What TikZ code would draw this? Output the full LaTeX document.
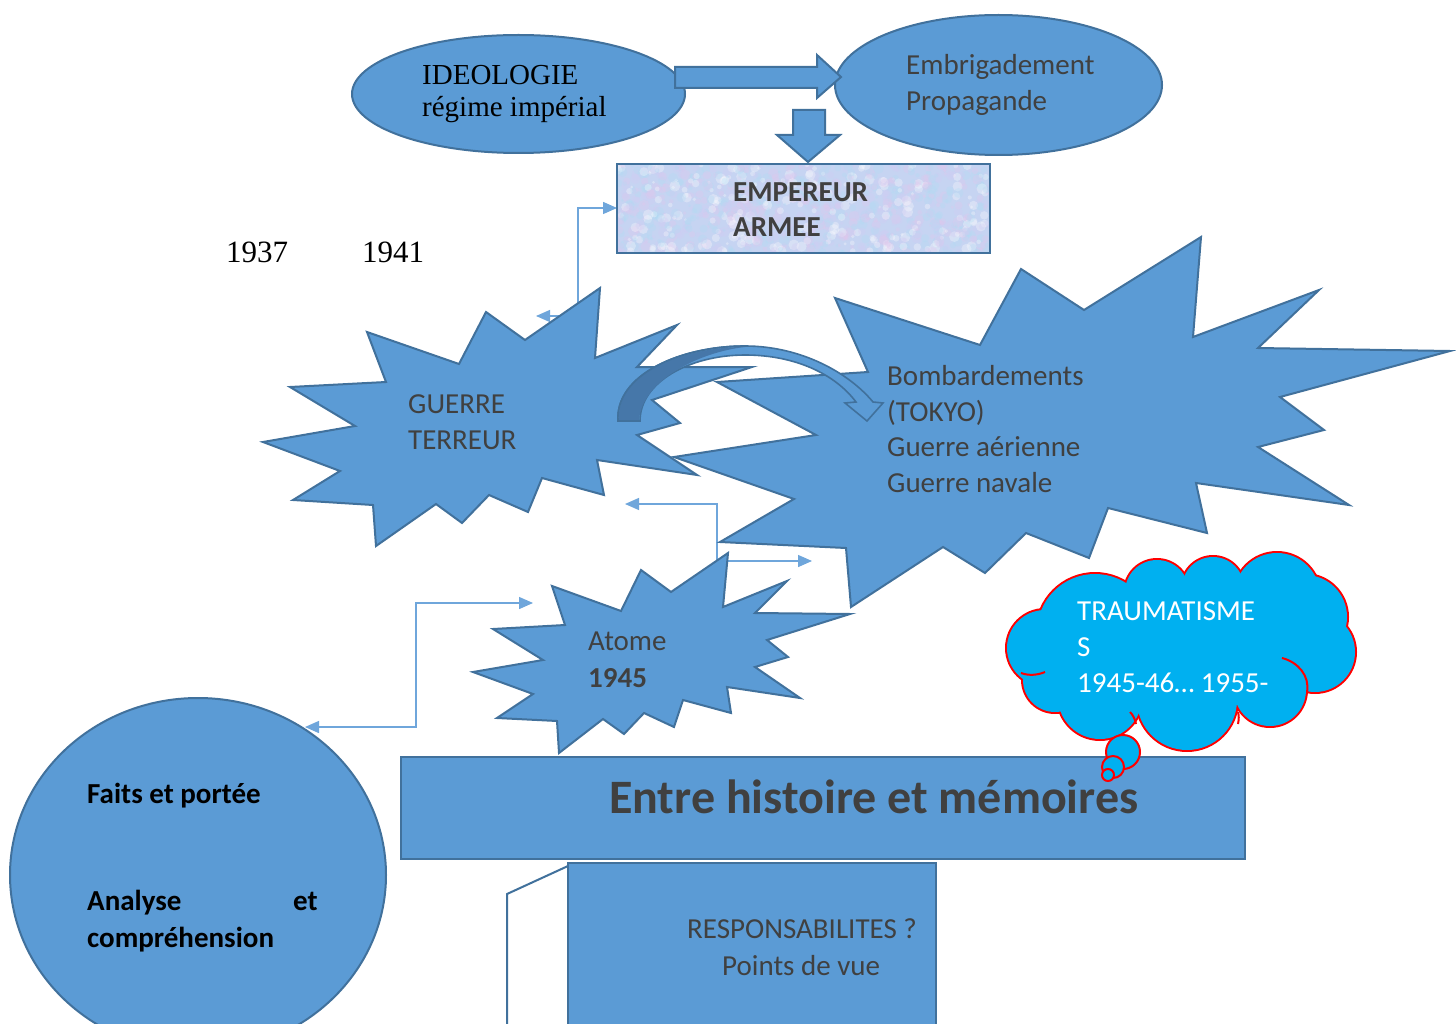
\documentclass[tikz,border=0pt]{standalone}
\usepackage{fontspec}
\setmainfont{Carlito}
\newfontfamily\tnr{Liberation Serif}
\usetikzlibrary{arrows.meta,shapes.geometric}
\definecolor{fillb}{HTML}{5B9BD5}
\definecolor{edgeb}{HTML}{41719C}
\definecolor{txtg}{HTML}{404040}
\definecolor{conn}{HTML}{6FA6DB}
\definecolor{cloudc}{HTML}{00B0F0}
\definecolor{darkband}{HTML}{4677A9}
\definecolor{empbase}{HTML}{C6D4F2}
\definecolor{emppink}{HTML}{E2C6EC}
\definecolor{empcyan}{HTML}{B0DCF4}
\definecolor{emplav}{HTML}{D2CCF2}
\begin{document}
\begin{tikzpicture}[x=1pt,y=-1pt,
  shapefill/.style={fill=fillb,draw=edgeb,line width=2pt,line join=miter},
  txt/.style={anchor=base west,inner sep=0pt,text=txtg,font=\fontsize{29}{34}\selectfont},
  btxt/.style={txt,font=\bfseries\fontsize{29}{34}\selectfont},
  serif/.style={anchor=base west,inner sep=0pt,text=black,font=\tnr\fontsize{29}{32}\selectfont},
  yr/.style={anchor=base west,inner sep=0pt,text=black,font=\tnr\fontsize{31}{34}\selectfont},
  connector/.style={draw=conn,line width=1.4pt,{Triangle[length=14pt,width=12pt]}-{Triangle[length=14pt,width=12pt]}},
  bubble/.style={fill=cloudc,draw=red,line width=2pt},
  curl/.style={draw=red,line width=2pt},
 ]
\useasboundingbox (0,0) rectangle (1456,1024);
\fill[white] (0,0) rectangle (1456,1024);

% ---------- connector coordinates ----------
\coordinate (c1a) at (617,208);
\coordinate (c1b) at (578,208);
\coordinate (c1c) at (578,316);
\coordinate (c1d) at (536,316);
\coordinate (c2a) at (625,504);
\coordinate (c2b) at (717,504);
\coordinate (c2c) at (717,561);
\coordinate (c2d) at (812,561);
\coordinate (c3a) at (533,603);
\coordinate (c3b) at (416,603);
\coordinate (c3c) at (416,727);
\coordinate (c3d) at (305,727);

\draw[connector] (c1d) -- (c1c) -- (c1b) -- (c1a);
\draw[connector] (c2a) -- (c2b) -- (c2c) -- (c2d);

% ---------- GUERRE star ----------
\draw[shapefill] (600,288) -- (595,358) -- (677,325) -- (637,367) -- (752,367) -- (652,400)
  -- (680,423) -- (637,435) -- (697,475) -- (597,460) -- (604,495) -- (542,478) -- (528,512)
  -- (489,495) -- (462,523) -- (436,504) -- (376,546) -- (373,505) -- (293,500) -- (340,471)
  -- (263,442) -- (355,426) -- (290,387) -- (386,382) -- (367,332) -- (459,364) -- (486,312)
  -- (525,340) -- cycle;

% ---------- big star ----------
\draw[shapefill] (835,298) -- (980,345) -- (1021,269) -- (1084,310) -- (1201,237) -- (1193,337)
  -- (1319,290) -- (1258,348) -- (1450,351) -- (1280,397) -- (1324,430) -- (1258,447)
  -- (1349,505) -- (1196,483) -- (1207,533) -- (1108,508) -- (1089,558) -- (1026,533)
  -- (985,573) -- (943,547) -- (851,607) -- (846,548) -- (720,542) -- (794,499) -- (674,457)
  -- (816,435) -- (717,382) -- (868,372) -- cycle;

% ---------- Atome star ----------
\draw[shapefill] (728,553) -- (723,607) -- (787,581) -- (755,613) -- (850,614) -- (767,640)
  -- (788,657) -- (755,667) -- (800,698) -- (727,687) -- (731,713) -- (683,700) -- (674,727)
  -- (644,713) -- (624,734) -- (603,719) -- (559,753) -- (557,721) -- (497,718) -- (533,694)
  -- (473,672) -- (543,660) -- (493,629) -- (565,625) -- (552,586) -- (621,611) -- (641,570)
  -- (671,592) -- cycle;

% ---------- curved arrow ----------
\draw[shapefill,line width=1.6pt] (618,421) .. controls (615,375) and (680,346) .. (745,346)
  .. controls (800,346) and (848,372) .. (873,402) -- (883,403) -- (867,421) -- (845,403)
  -- (856,402) .. controls (835,374) and (795,355) .. (745,355)
  .. controls (690,355) and (640,382) .. (640,421) -- cycle;
\fill[darkband] (619,420) .. controls (616,375) and (680,347) .. (745,347)
  .. controls (700,352) and (642,380) .. (639,420) -- cycle;
\draw[edgeb,line width=1.6pt] (618,421) .. controls (615,375) and (680,346) .. (745,346);
\draw[edgeb,line width=1.6pt] (618,421) -- (640,421);

% ---------- top ellipses and block arrows ----------
\node[ellipse,shapefill,minimum width=333,minimum height=118,inner sep=0pt] (ideo) at (518.5,94) {};
\node[ellipse,shapefill,minimum width=327,minimum height=140,inner sep=0pt] (embr) at (998.5,85) {};
\draw[shapefill] (675,67) -- (817,67) -- (817,55) -- (841,77) -- (817,98) -- (817,88) -- (675,88) -- cycle;
\draw[shapefill] (793,110) -- (825,110) -- (825,135) -- (840,135) -- (808,162) -- (777,135) -- (793,135) -- cycle;

% ---------- EMPEREUR box ----------
\begin{scope}
\clip (617,164) rectangle (990,253);
\fill[empbase] (617,164) rectangle (990,253);
\pgfmathsetseed{11}
\foreach \i in {1,...,1100}{
  \pgfmathsetmacro\xx{617+373*rnd}
  \pgfmathsetmacro\yy{164+89*rnd}
  \pgfmathsetmacro\rr{1.5+4*rnd}
  \pgfmathtruncatemacro\kk{4*rnd}
  \ifcase\kk\def\cc{emppink}\or\def\cc{empcyan}\or\def\cc{emplav}\else\def\cc{white}\fi
  \fill[\cc,opacity=0.3] (\xx,\yy) circle (\rr);
}
\end{scope}
\node[rectangle,draw=edgeb,line width=2.2pt,minimum width=373,minimum height=89,inner sep=0pt] (emp) at (803.5,208.5) {};

% ---------- Faits circle ----------
\node[ellipse,shapefill,minimum width=376,minimum height=354,inner sep=0pt] (faits) at (198,875) {};
\draw[connector] (c3a) -- (c3b) -- (c3c) -- (c3d);

% ---------- bottom boxes ----------
\node[rectangle,shapefill,minimum width=844,minimum height=102,inner sep=0pt] (entre) at (823,808) {};
\draw[shapefill] (568,863) rectangle (936,1040);
\coordinate (r1) at (568,866);
\coordinate (r2) at (507,894);
\coordinate (r3) at (507,1040);
\draw[edgeb,line width=2pt] (r1) -- (r2) -- (r3);

% ---------- cloud ----------
\foreach \cx/\cy/\r in {1045/648/38,1095/632/58,1157/592/32,1213/588/31,1277/596/43,1305/617/42,
  1315/652/40,1270/690/36,1187/700/50,1100/697/42,1055/680/32}
  \draw[red,line width=4pt] (\cx,\cy) circle (\r);
\foreach \cx/\cy/\r in {1045/648/38,1095/632/58,1157/592/32,1213/588/31,1277/596/43,1305/617/42,
  1315/652/40,1270/690/36,1187/700/50,1100/697/42,1055/680/32}
  \fill[cloudc] (\cx,\cy) circle (\r);
\fill[cloudc] (1185,645) ellipse (120 and 65);
% inner curls of the cloud
\draw[curl] (1282,658) .. controls (1298,662) and (1310,676) .. (1307,692);
\draw[curl] (1021,673) .. controls (1029,676) and (1038,675) .. (1045,672);
\draw[curl] (1136,724) .. controls (1135,719) and (1133,715) .. (1130,712);
\draw[curl] (1238,724) .. controls (1239,719) and (1239,716) .. (1238,712);
\node[circle,bubble,minimum size=34,inner sep=0pt] (b1) at (1123,752) {};
\node[circle,bubble,minimum size=22,inner sep=0pt] (b2) at (1113,767) {};
\node[circle,bubble,minimum size=12,inner sep=0pt] (b3) at (1108,775) {};

% ---------- texts ----------
\node[serif] (t1) at (422,85) {IDEOLOGIE};
\node[serif] (t2) at (422,117) {régime impérial};
\node[txt] (t3) at (906,75) {Embrigadement};
\node[txt] (t4) at (906,111) {Propagande};
\node[btxt] (t5) at (733,202) {EMPEREUR};
\node[btxt] (t6) at (733,237) {ARMEE};
\node[yr] (y1) at (226,263) {1937};
\node[yr] (y2) at (362,263) {1941};
\node[txt] (t7) at (408,413) {GUERRE};
\node[txt] (t8) at (408,449) {TERREUR};
\node[txt] (t9) at (887,385) {Bombardements};
\node[txt] (t10) at (887,421) {(TOKYO)};
\node[txt] (t11) at (887,456) {Guerre aérienne};
\node[txt] (t12) at (887,492) {Guerre navale};
\node[txt] (t13) at (588,650) {Atome};
\node[btxt] (t14) at (588,687) {1945};
\node[txt,text=white] (t15) at (1077,620) {TRAUMATISME};
\node[txt,text=white] (t16) at (1077,656) {S};
\node[txt,text=white] (t17) at (1077,692) {1945-46… 1955-};
\node[txt,font=\bfseries\fontsize{48}{56}\selectfont] (t18) at (609,813) {Entre histoire et mémoires};
\node[txt] (t19) at (687,938) {RESPONSABILITES ?};
\node[txt] (t20) at (722,975) {Points de vue};
\node[btxt,text=black] (t21) at (87,803) {Faits et portée};
\node[btxt,text=black] (t22) at (87,910) {Analyse};
\node[btxt,text=black] (t23) at (293,910) {et};
\node[btxt,text=black] (t24) at (87,947) {compréhension};
\end{tikzpicture}
\end{document}
